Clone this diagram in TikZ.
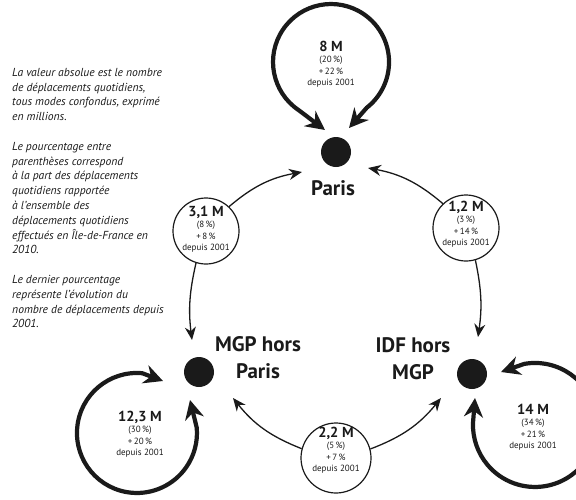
\documentclass[tikz,border=0pt]{standalone}
\usepackage{fontspec}
\setmainfont{PT Sans}
\usetikzlibrary{arrows.meta}
\definecolor{ink}{HTML}{1A1A1A}
\newcommand\bigval[1]{{\fontsize{14.5}{14}\selectfont\bfseries #1}}
\begin{document}
\begin{tikzpicture}[x=1pt,y=1pt,
  dot/.style={circle,fill=ink,minimum size=30pt,inner sep=0pt},
  place/.style={font=\fontsize{21}{27}\selectfont\bfseries,align=center,text=ink},
  valbox/.style={circle,draw=ink,line width=1.2pt,minimum size=#1,inner sep=0pt},
  valtxt/.style={align=center,font=\fontsize{9}{11.5}\selectfont,text=ink},
  conn/.style={draw=ink,line width=1.3pt,-{Stealth[length=13pt,width=11pt]}},
  loopline/.style={draw=ink,line width=4.2pt,{Stealth[length=19pt,width=19pt]}-{Stealth[length=19pt,width=19pt]}},
  note/.style={align=left,font=\itshape\fontsize{11.6}{14.8}\selectfont,text=ink,inner sep=0pt}
]
\useasboundingbox (0,0) rectangle (576,-499);
\clip (0,0) rectangle (576,-499);

% left note
\node[note,anchor=north west] (note) at (12,-68) {La valeur absolue est le nombre\\de déplacements quotidiens,\\tous modes confondus, exprimé\\en millions.\\[14.8pt]Le pourcentage entre\\parenthèses correspond\\à la part des déplacements\\quotidiens rapportée\\à l'ensemble des\\déplacements quotidiens\\effectués en Île-de-France en\\2010.\\[14.8pt]Le dernier pourcentage\\représente l'évolution du\\nombre de déplacements depuis\\2001.};

% dots
\node[dot] (paris) at (336,-152) {};
\node[dot] (mgp) at (199,-372) {};
\node[dot] (idf) at (472,-374) {};

% place labels
\node[place] (lparis) at (333,-188) {Paris};
\node[place] (lmgp) at (258,-358) {MGP hors\\Paris};
\node[place] (lidf) at (413,-359) {IDF hors\\MGP};

% value circles
\node[valbox=66pt] (c31) at (206,-231) {};
\node[valbox=66pt] (c12) at (466,-228) {};
\node[valbox=70pt] (c22) at (336,-458) {};
\node[valtxt] (t31) at (206,-229) {\bigval{3,1 M}\\(8\,\%)\\+\,8\,\%\\depuis 2001};
\node[valtxt] (t12) at (466,-224) {\bigval{1,2 M}\\(3\,\%)\\+\,14\,\%\\depuis 2001};
\node[valtxt] (t22) at (336,-450) {\bigval{2,2 M}\\(5\,\%)\\+\,7\,\%\\depuis 2001};

% loop texts
\node[valtxt] (tparis) at (331,-64) {\bigval{8 M}\\(20\,\%)\\+\,22\,\%\\depuis 2001};
\node[valtxt] (tmgp) at (140,-434) {\bigval{12,3 M}\\(30\,\%)\\+\,20\,\%\\depuis 2001};
\node[valtxt] (tidf) at (533,-427) {\bigval{14 M}\\(34\,\%)\\+\,21\,\%\\depuis 2001};

% connector tips
\coordinate (pA) at (302,-172);
\coordinate (pB) at (368,-168);
\coordinate (mA) at (192,-340);
\coordinate (mB) at (233,-398);
\coordinate (iA) at (478,-337);
\coordinate (iB) at (441,-398);

\draw[conn] (c31) to[bend left=15] (pA);
\draw[conn] (c12) to[bend right=15] (pB);
\draw[conn] (c31) to[bend right=10] (mA);
\draw[conn] (c12) to[bend left=10] (iA);
\draw[conn] (c22) to[bend left=15] (mB);
\draw[conn] (c22) to[bend right=15] (iB);

% self loops
\coordinate (plA) at (325,-130);
\coordinate (plB) at (349,-128);
\draw[loopline] (plA) -- (298.6,-110.1) arc[start angle=236,end angle=-52,radius=58] -- (plB);

\coordinate (mlA) at (163,-381);
\coordinate (mlB) at (190,-400);
\draw[loopline] (mlA) -- (142.2,-373.2) arc[start angle=85,end angle=365,radius=60] -- (mlB);

\coordinate (ilA) at (501,-372);
\coordinate (ilB) at (475,-398);
\draw[loopline] (ilA) -- (524.2,-363.9) arc[start angle=100,end angle=-182,radius=62] -- (ilB);
\end{tikzpicture}
\end{document}
